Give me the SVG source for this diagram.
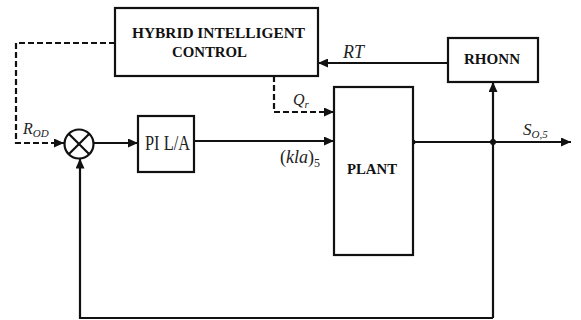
<svg xmlns="http://www.w3.org/2000/svg" width="581" height="320" viewBox="0 0 581 320">
<style>
.box{fill:#fff;stroke:#111;stroke-width:2.2}
.ln{fill:none;stroke:#111;stroke-width:2.2}
.dash{fill:none;stroke:#111;stroke-width:2.2;stroke-dasharray:6,3}
.bt{font-weight:bold;fill:#111}
.lb{font-style:italic;fill:#222}
.rt{fill:#222}
</style>
<defs>
<marker id="ah" markerUnits="userSpaceOnUse" markerWidth="11" markerHeight="9" refX="10" refY="4.5" orient="auto">
<path d="M0,0 L10,4.5 L0,9 z" fill="#111"/>
</marker>
</defs>
<rect width="581" height="320" fill="#fff"/>
<g id="connectors">
<path class="dash" d="M115,43 H16 V143 H64" marker-end="url(#ah)"/>
<path class="ln" d="M93.5,143 H138" marker-end="url(#ah)"/>
<path class="ln" d="M194,141 H334" marker-end="url(#ah)"/>
<path class="dash" d="M274,76 V112 H334" marker-end="url(#ah)"/>
<path class="ln" d="M413,142 H571" marker-end="url(#ah)"/>
<path class="ln" d="M493,318 V82" marker-end="url(#ah)"/>
<path class="ln" d="M448,63 H318" marker-end="url(#ah)"/>
<path class="ln" d="M493,318 H80 V158.5" marker-end="url(#ah)"/>
<circle cx="413" cy="142" r="2.5" fill="#111"/>
<circle cx="493" cy="142" r="3" fill="#111"/>
<g font-family="Liberation Serif, Times New Roman, serif">
<text class="lb" x="23" y="134" font-size="16">R<tspan font-size="11" dy="3">OD</tspan></text>
<text class="lb" x="293" y="105" font-size="16">Q<tspan font-size="11" dy="3">r</tspan></text>
<text class="rt" x="280" y="163" font-size="18">(<tspan font-style="italic">kla</tspan>)<tspan font-size="12" dy="4">5</tspan></text>
<text class="lb" x="343" y="58" font-size="18">RT</text>
<text class="lb" x="523" y="135" font-size="17">S<tspan font-size="11" dy="3">O,5</tspan></text>
</g>
</g>
<g id="hybrid-intelligent-control" font-family="Liberation Serif, Times New Roman, serif">
<rect class="box" x="115" y="8" width="203" height="68"/>
<text class="bt" x="132" y="38" font-size="15.5" textLength="173" lengthAdjust="spacingAndGlyphs">HYBRID INTELLIGENT</text>
<text class="bt" x="172" y="57" font-size="15.5" textLength="75" lengthAdjust="spacingAndGlyphs">CONTROL</text>
</g>
<g id="rhonn" font-family="Liberation Serif, Times New Roman, serif">
<rect class="box" x="448" y="38" width="90" height="44"/>
<text class="bt" x="464" y="64" font-size="15" textLength="56" lengthAdjust="spacingAndGlyphs">RHONN</text>
</g>
<g id="sum">
<circle class="ln" cx="79" cy="144" r="14.5" fill="#fff" stroke-width="1.5"/>
<path class="ln" stroke-width="1.5" d="M68.7,133.7 L89.3,154.3 M89.3,133.7 L68.7,154.3"/>
</g>
<g id="pi" font-family="Liberation Serif, Times New Roman, serif">
<rect class="box" x="138" y="116" width="56" height="56"/>
<text class="rt" x="145" y="150" font-size="20" textLength="45" lengthAdjust="spacingAndGlyphs">PI L/A</text>
</g>
<g id="plant" font-family="Liberation Serif, Times New Roman, serif">
<rect class="box" x="334" y="87" width="79" height="168"/>
<text class="bt" x="347" y="174" font-size="15" textLength="50" lengthAdjust="spacingAndGlyphs">PLANT</text>
</g>
</svg>
